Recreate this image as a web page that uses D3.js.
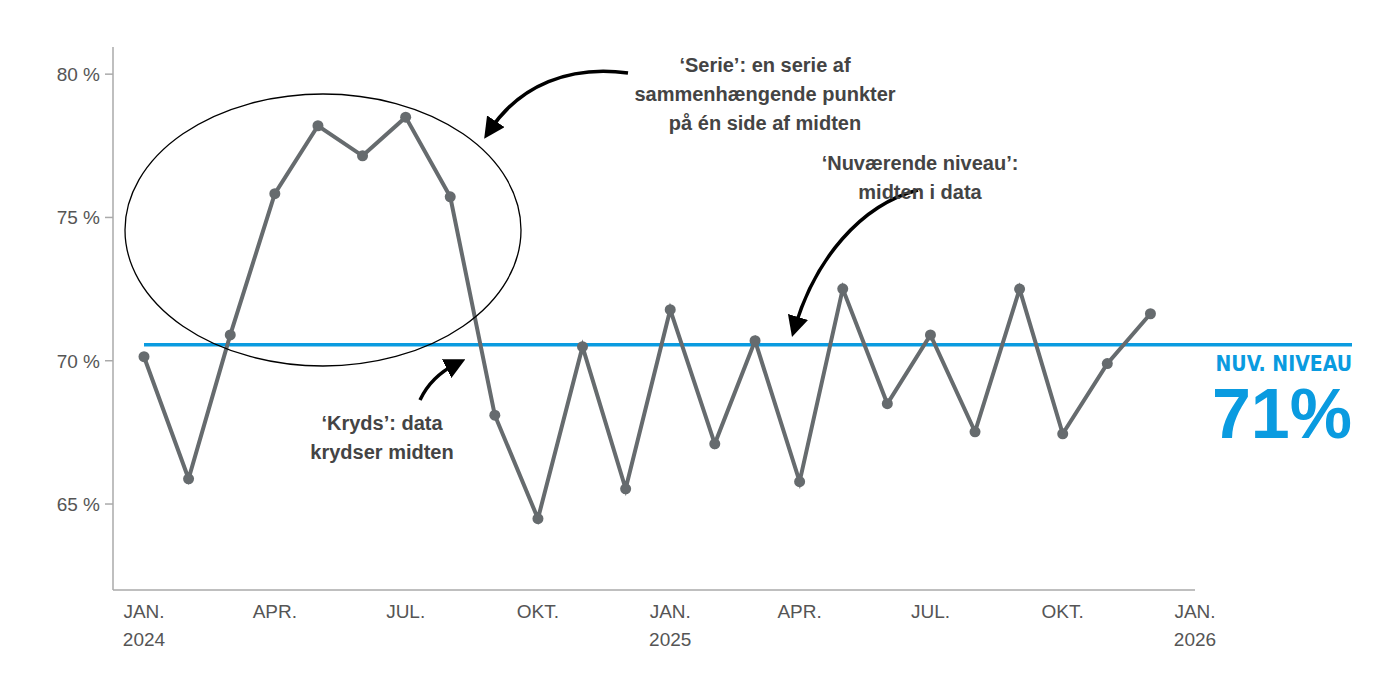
<!DOCTYPE html><html><head><meta charset="utf-8">
<script src="https://cdn.jsdelivr.net/npm/d3@7"></script>
<style>body{margin:0;background:#fff}</style></head><body>
<svg id="c" width="1400" height="700"></svg>
<script>
const months = ["2024-01","2024-02","2024-03","2024-04","2024-05","2024-06","2024-07","2024-08","2024-09","2024-10","2024-11","2024-12","2025-01","2025-02","2025-03","2025-04","2025-05","2025-06","2025-07","2025-08","2025-09","2025-10","2025-11","2025-12"];
const values = [70.14,65.88,70.9,75.83,78.2,77.15,78.5,75.72,68.1,64.49,70.49,65.53,71.78,67.1,70.7,65.78,72.51,68.5,70.9,67.52,72.5,67.45,69.9,71.64];
const median = 70.56;
const yTicks = [65,70,75,80];
const xTicks = [["2024-01","JAN.","2024"],["2024-04","APR.",""],["2024-07","JUL.",""],["2024-10","OKT.",""],["2025-01","JAN.","2025"],["2025-04","APR.",""],["2025-07","JUL.",""],["2025-10","OKT.",""],["2026-01","JAN.","2026"]];

const svg = d3.select("#c");
const parse = d3.timeParse("%Y-%m");
const x = d3.scaleTime().domain([parse("2024-01"),parse("2026-01")]).range([144,1195]);
const y = d3.scaleLinear().domain([62,81]).range([590,45.5]);
const grey="#666b6e", font="Helvetica, Arial, 'Liberation Sans', sans-serif";

svg.append("line").attr("x1",113).attr("x2",113).attr("y1",47).attr("y2",590).attr("stroke","#aaa").attr("stroke-width",1.5);
svg.append("line").attr("x1",113).attr("x2",1195).attr("y1",590).attr("y2",590).attr("stroke","#aaa").attr("stroke-width",1.5);
yTicks.forEach(t=>{
  svg.append("line").attr("x1",105).attr("x2",113).attr("y1",y(t)).attr("y2",y(t)).attr("stroke","#aaa").attr("stroke-width",1.5);
  svg.append("text").attr("x",100).attr("y",y(t)+7).attr("text-anchor","end").attr("font-family",font).attr("font-size",19).attr("fill","#555").text(t+" %");
});
xTicks.forEach(([d,a,b])=>{
  const t=svg.append("text").attr("x",x(parse(d))).attr("y",618).attr("text-anchor","middle").attr("font-family",font).attr("font-size",19).attr("fill","#555");
  t.append("tspan").attr("x",x(parse(d))).text(a);
  if(b) t.append("tspan").attr("x",x(parse(d))).attr("dy",28).text(b);
});

svg.append("line").attr("x1",144).attr("x2",1352).attr("y1",y(median)).attr("y2",y(median)).attr("stroke","#0a9be0").attr("stroke-width",3.5);

const data = months.map((m,i)=>({d:parse(m),v:values[i]}));
svg.append("path").datum(data).attr("fill","none").attr("stroke",grey).attr("stroke-width",4)
  .attr("d",d3.line().x(d=>x(d.d)).y(d=>y(d.v)));
svg.selectAll("circle.p").data(data).join("circle").attr("cx",d=>x(d.d)).attr("cy",d=>y(d.v)).attr("r",5.5).attr("fill",grey);

svg.append("ellipse").attr("cx",323).attr("cy",230).attr("rx",198).attr("ry",136).attr("fill","none").attr("stroke","#000").attr("stroke-width",1.3);

svg.append("defs").append("marker").attr("id","ah").attr("viewBox","0 0 10 10").attr("refX",5).attr("refY",5)
  .attr("markerWidth",6).attr("markerHeight",6).attr("orient","auto")
  .append("path").attr("d","M0,0L10,5L0,10z").attr("fill","#000");
[["M628,73 C570,65 520,85 490,130"],["M918,190 C860,205 815,260 795,327"],["M420,400 C428,383 440,372 456,364"]].forEach(([p])=>{
  svg.append("path").attr("d",p).attr("fill","none").attr("stroke","#000").attr("stroke-width",3.5).attr("marker-end","url(#ah)");
});

function label(lines,cx,y0,lh){
  const t=svg.append("text").attr("text-anchor","middle").attr("font-family",font).attr("font-weight","bold").attr("font-size",20).attr("fill","#444");
  lines.forEach((l,i)=>t.append("tspan").attr("x",cx).attr("y",y0+i*lh).text(l));
}
label(["‘Serie’: en serie af","sammenhængende punkter","på én side af midten"],765,72,29);
label(["‘Nuværende niveau’:","midten i data"],920,170,29);
label(["‘Kryds’: data","krydser midten"],382,430,29);

svg.append("text").attr("x",1352).attr("y",371).attr("text-anchor","end").attr("font-family","'Liberation Sans Narrow', 'DejaVu Sans Condensed', sans-serif").attr("font-weight","bold").attr("font-size",21).attr("fill","#0a9be0").text("NUV. NIVEAU");
svg.append("text").attr("x",1352).attr("y",438).attr("text-anchor","end").attr("font-family",font).attr("font-weight","bold").attr("font-size",70).attr("fill","#0a9be0").text("71%");
</script></body></html>
